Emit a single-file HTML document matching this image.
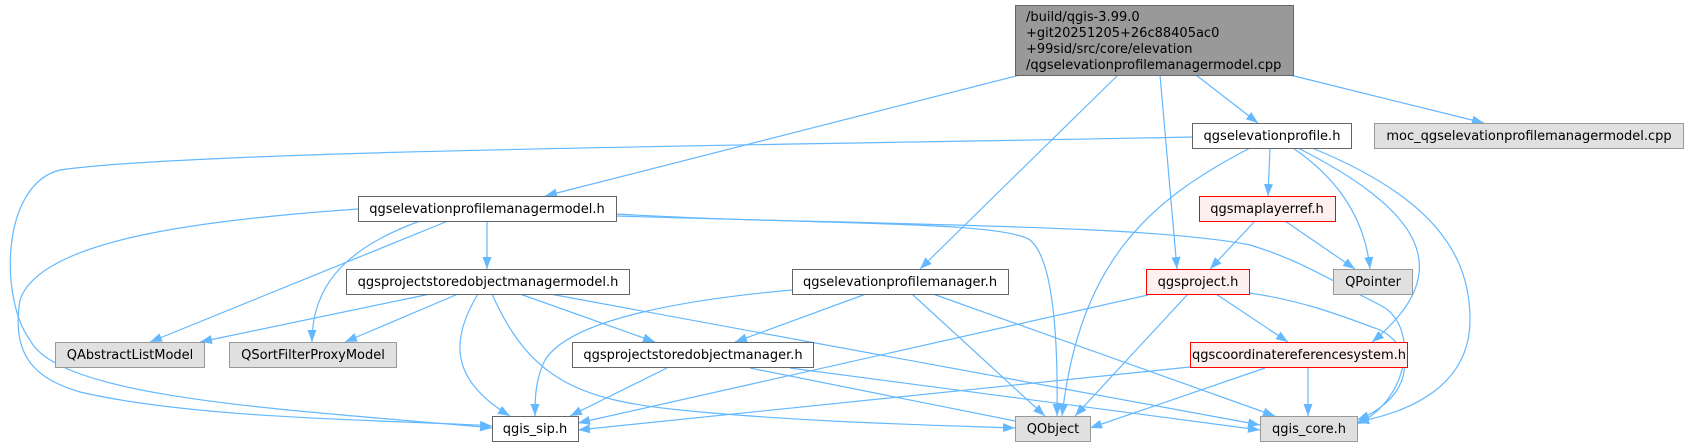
<!DOCTYPE html>
<html><head><meta charset="utf-8"><style>
html,body{margin:0;padding:0;background:#fff;}
svg{display:block;}
text{font-family:"DejaVu Sans","Liberation Sans",sans-serif;font-size:13px;fill:#000;}
</style></head><body>
<svg width="1688" height="447" viewBox="0 0 1688 447" xmlns="http://www.w3.org/2000/svg">
<defs>
<marker id="a" viewBox="0 0 12 10" refX="12" refY="5" markerWidth="12" markerHeight="10" markerUnits="userSpaceOnUse" orient="auto">
<path d="M0,0.5 L12,5 L0,9.5 z" fill="#63b8ff"/></marker>
</defs>
<g fill="none" stroke="#63b8ff" stroke-width="1.2" marker-end="url(#a)">
<path d="M1020,75 L545,196"/>
<path d="M1118,75 L920,269"/>
<path d="M1160,75 L1177,269"/>
<path d="M1196,75 L1258,123"/>
<path d="M1290,75 L1484,123"/>
<path d="M1192,137 C800,145 200,150 60,170 C0,185 0,300 30,340 C60,400 300,410 492,428"/>
<path d="M1250,148 C1150,200 1080,260 1062,416"/>
<path d="M1270,148 L1268,196"/>
<path d="M1293,148 C1340,180 1365,220 1370,269"/>
<path d="M1298,148 C1420,210 1460,270 1372,342"/>
<path d="M1312,148 C1440,200 1470,260 1470,320 C1470,380 1420,410 1357,422"/>
<path d="M358,209 C200,220 40,240 20,300 C10,360 40,380 80,392 C200,420 400,420 492,426"/>
<path d="M448,221 L150,342"/>
<path d="M420,221 C340,250 312,290 312,342"/>
<path d="M487,221 L487,269"/>
<path d="M616,214 C800,225 1000,220 1030,240 C1055,260 1058,350 1057,416"/>
<path d="M616,216 C900,225 1150,225 1250,245 C1300,260 1330,280 1380,305 C1420,325 1410,400 1357,424"/>
<path d="M430,294 L200,342"/>
<path d="M458,294 L345,342"/>
<path d="M478,294 C450,340 450,380 510,416"/>
<path d="M492,294 C530,380 580,400 680,410 C800,422 930,425 1015,428"/>
<path d="M520,294 L655,342"/>
<path d="M550,294 L1260,425"/>
<path d="M792,290 C680,300 570,320 545,360 C535,380 535,400 535,416"/>
<path d="M866,294 L735,342"/>
<path d="M912,294 L1045,416"/>
<path d="M933,294 L1275,416"/>
<path d="M1148,295 L578,423"/>
<path d="M1188,294 L1075,416"/>
<path d="M1216,294 L1288,342"/>
<path d="M1249,293 C1300,300 1340,315 1380,330 C1420,350 1410,400 1357,420"/>
<path d="M1255,221 L1210,269"/>
<path d="M1285,221 L1355,269"/>
<path d="M667,368 L570,416"/>
<path d="M750,368 L1035,425"/>
<path d="M790,368 L1260,430"/>
<path d="M1190,367 L578,430"/>
<path d="M1265,368 L1090,428"/>
<path d="M1308,368 L1308,416"/>
</g>
<g stroke-width="1">
<rect x="1015.5" y="5.5" width="278" height="70" fill="#999" stroke="#666"/>
<rect x="1192.5" y="123.5" width="159" height="25" fill="#fff" stroke="#666"/>
<rect x="1374.5" y="123.5" width="309" height="25" fill="#e0e0e0" stroke="#999"/>
<rect x="358.5" y="196.5" width="258" height="25" fill="#fff" stroke="#666"/>
<rect x="1199.5" y="196.5" width="136" height="25" fill="#fff0f0" stroke="#f00"/>
<rect x="346.5" y="269.5" width="283" height="25" fill="#fff" stroke="#666"/>
<rect x="792.5" y="269.5" width="216" height="25" fill="#fff" stroke="#666"/>
<rect x="1146.5" y="269.5" width="103" height="25" fill="#fff0f0" stroke="#f00"/>
<rect x="1333.5" y="269.5" width="79" height="25" fill="#e0e0e0" stroke="#999"/>
<rect x="55.5" y="342.5" width="149" height="25" fill="#e0e0e0" stroke="#999"/>
<rect x="229.5" y="342.5" width="167" height="25" fill="#e0e0e0" stroke="#999"/>
<rect x="572.5" y="342.5" width="241" height="25" fill="#fff" stroke="#666"/>
<rect x="1190.5" y="342.5" width="217" height="25" fill="#fff0f0" stroke="#f00"/>
<rect x="492.5" y="416.5" width="86" height="25" fill="#fff" stroke="#666"/>
<rect x="1015.5" y="416.5" width="75" height="25" fill="#e0e0e0" stroke="#999"/>
<rect x="1260.5" y="416.5" width="97" height="25" fill="#e0e0e0" stroke="#999"/>
</g>
<g>
<text x="1026" y="21">/build/qgis-3.99.0</text>
<text x="1026" y="37">+git20251205+26c88405ac0</text>
<text x="1026" y="53">+99sid/src/core/elevation</text>
<text x="1026" y="69">/qgselevationprofilemanagermodel.cpp</text>
</g>
<g text-anchor="middle">
<text x="1272" y="140">qgselevationprofile.h</text>
<text x="1529" y="140">moc_qgselevationprofilemanagermodel.cpp</text>
<text x="487" y="213">qgselevationprofilemanagermodel.h</text>
<text x="1267" y="213">qgsmaplayerref.h</text>
<text x="488" y="286">qgsprojectstoredobjectmanagermodel.h</text>
<text x="900" y="286">qgselevationprofilemanager.h</text>
<text x="1198" y="286">qgsproject.h</text>
<text x="1373" y="286">QPointer</text>
<text x="130" y="359">QAbstractListModel</text>
<text x="313" y="359">QSortFilterProxyModel</text>
<text x="693" y="359">qgsprojectstoredobjectmanager.h</text>
<text x="1299" y="359">qgscoordinatereferencesystem.h</text>
<text x="535" y="433">qgis_sip.h</text>
<text x="1053" y="433">QObject</text>
<text x="1309" y="433">qgis_core.h</text>
</g>
</svg>
</body></html>
